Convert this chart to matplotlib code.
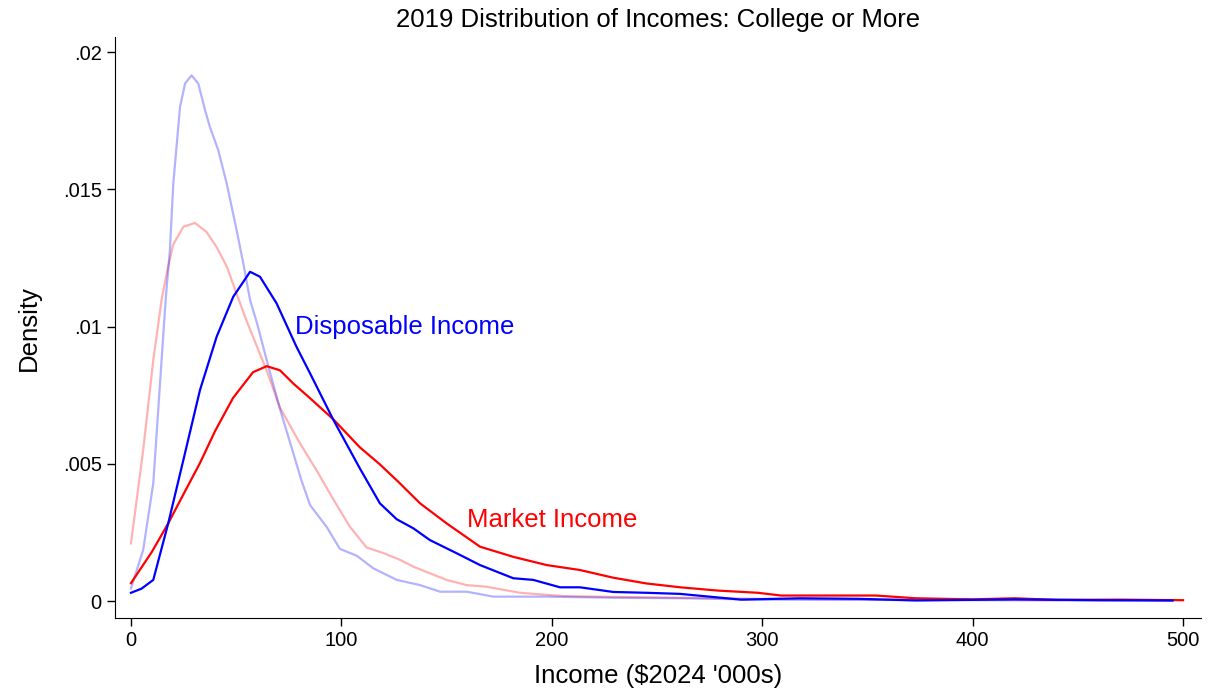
import matplotlib
matplotlib.use("Agg")
import matplotlib.pyplot as plt

plt.rcParams['font.family'] = ['Liberation Sans', 'DejaVu Sans']

# income in $2024 thousands, kernel density values read per curve
mkt_x = [0, 10, 17.7, 25, 32.8, 40, 48.5, 58, 64.5, 70.8, 77.1, 85, 96.2, 108.8, 118,
         127, 137.4, 150, 165.9, 181.7, 197.6, 213.4, 229.2, 245, 261, 279, 298, 309,
         326, 354, 373, 400, 420, 440, 470, 500]
mkt_d = [0.00065, 0.0018, 0.00283, 0.0039, 0.00503, 0.0062, 0.0074, 0.00834, 0.00856,
         0.00841, 0.00793, 0.0074, 0.00662, 0.0056, 0.0050, 0.00435, 0.00356, 0.00283,
         0.00198, 0.00161, 0.00131, 0.00113, 0.00085, 0.00064, 0.0005, 0.00038, 0.0003,
         0.0002, 0.0002, 0.0002, 0.0001, 0.00006, 0.0001, 0.00004, 0.00005, 0.00003]

disp_x = [0, 5, 10.6, 17.7, 24.9, 32.8, 40.7, 48.6, 56.6, 61.3, 69.2, 78.7, 85.1, 96.2,
          108.8, 118.3, 126.3, 134.2, 142.1, 154.8, 165.9, 181.7, 191.2, 203.9, 213.4,
          229.2, 245, 261, 290, 318, 346, 373, 420, 460, 495]
disp_d = [0.0003, 0.00045, 0.00077, 0.00283, 0.00514, 0.00769, 0.00963, 0.01109, 0.0120,
          0.01182, 0.01085, 0.00926, 0.0083, 0.0066, 0.00483, 0.00356, 0.00298, 0.00265,
          0.00222, 0.00174, 0.00131, 0.00083, 0.00077, 0.0005, 0.0005, 0.00033, 0.0003,
          0.00026, 0.00005, 0.0001, 0.00008, 0.00002, 0.00006, 0.00003, 0.00002]

# comparison year, drawn faded
mkt0_x = [0, 5.8, 10.6, 14.6, 17.7, 20.1, 24.9, 30.4, 35.9, 40.7, 45.5, 50.2, 55, 64.5,
          70.8, 80.3, 88.3, 96.2, 104.1, 112, 119.9, 127.9, 134.2, 150, 159.5, 169, 184.9,
          205.4, 229, 261, 300, 350, 400, 450, 495]
mkt0_d = [0.0021, 0.0055, 0.00878, 0.011, 0.0122, 0.013, 0.01364, 0.01378, 0.01345,
          0.0129, 0.0122, 0.0112, 0.0102, 0.0084, 0.00705, 0.00575, 0.00475, 0.0037,
          0.0027, 0.00195, 0.00175, 0.0015, 0.00125, 0.00077, 0.00058, 0.00052, 0.0003,
          0.00018, 0.00015, 0.00012, 0.00008, 0.00006, 0.00005, 0.00004, 0.00003]

disp0_x = [0, 5.8, 10.6, 13.8, 16.5, 18.5, 20.1, 23.3, 25.7, 28.8, 32, 35.2, 37.5, 41.5,
           45.5, 50.2, 53.4, 56.6, 60, 64.5, 70.8, 77.1, 81, 85.1, 93, 99.3, 107.3, 115.2,
           126.3, 137.4, 146.9, 159.5, 172.2, 197.6, 229, 261, 300, 350, 400, 450, 495]
disp0_d = [0.00046, 0.00186, 0.00429, 0.00793, 0.011, 0.0128, 0.0152, 0.018, 0.01886,
           0.01916, 0.01886, 0.01789, 0.01728, 0.01643, 0.01522, 0.01352, 0.0123, 0.01097,
           0.0101, 0.00878, 0.007, 0.0054, 0.0044, 0.0035, 0.0027, 0.0019, 0.00165,
           0.00119, 0.00077, 0.00058, 0.00034, 0.00034, 0.00016, 0.00016, 0.00012, 0.0001,
           0.00005, 0.00004, 0.00003, 0.00002, 0.00002]

x_ticks = [0, 100, 200, 300, 400, 500]
y_ticks = [0, 0.005, 0.01, 0.015, 0.02]
y_labels = ['0', '.005', '.01', '.015', '.02']

fig = plt.figure(figsize=(12.18, 6.89), dpi=100)
ax = fig.add_axes([0.0944, 0.103, 0.8916, 0.843])

ax.plot(mkt0_x, mkt0_d, color='red', alpha=0.3, lw=1.6)
ax.plot(disp0_x, disp0_d, color='blue', alpha=0.3, lw=1.6)
ax.plot(mkt_x, mkt_d, color='red', lw=1.6)
ax.plot(disp_x, disp_d, color='blue', lw=1.6)

ax.text(78, 0.00998, 'Disposable Income', color='blue', fontsize=18.5, va='center', ha='left')
ax.text(159.5, 0.00295, 'Market Income', color='red', fontsize=18.5, va='center', ha='left')

ax.set_xlim(-7.6, 508.5)
ax.set_ylim(-0.00062, 0.02055)
ax.set_xticks(x_ticks)
ax.set_yticks(y_ticks)
ax.set_yticklabels(y_labels)
ax.tick_params(labelsize=14.5, length=6, width=1, direction='out')
for s in ['top', 'right']:
    ax.spines[s].set_visible(False)

ax.set_xlabel("Income ($2024 '000s)", fontsize=18.5, labelpad=10)
ax.set_ylabel('Density', fontsize=18.5, labelpad=16)
ax.set_title('2019 Distribution of Incomes: College or More', fontsize=18.5, pad=7)

fig.savefig('out.png', dpi=100)
